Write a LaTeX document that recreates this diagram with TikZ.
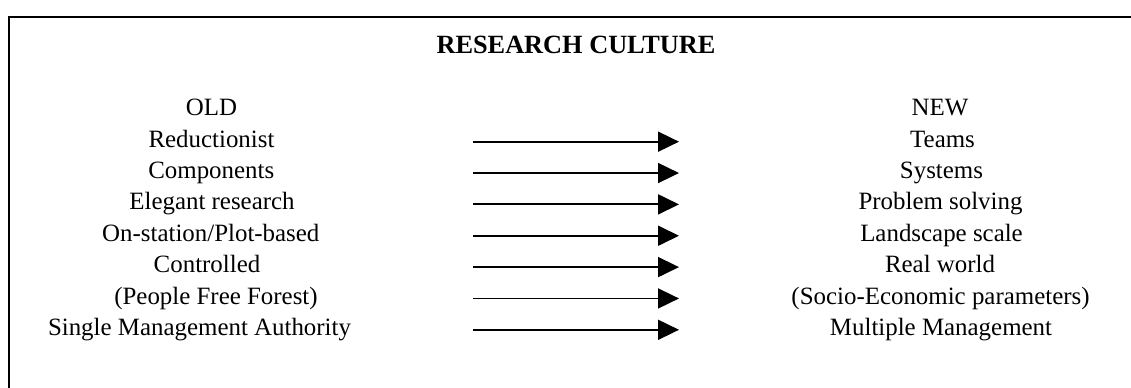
\documentclass[tikz,border=0pt]{standalone}
\usepackage{fontspec}
\setmainfont{Liberation Serif}
\usetikzlibrary{arrows.meta}
\begin{document}
\begin{tikzpicture}[x=0.5bp,y=-0.5bp,
  cell/.style={anchor=base,inner sep=0pt,font=\fontsize{12.5}{15}\selectfont},
  headtext/.style={cell,font=\fontsize{13.2}{16}\selectfont\bfseries},
  turnarrow/.style={-{Triangle[length=10.5bp,width=10bp]},line width=0.9bp},
  boxline/.style={line width=1bp}]
\useasboundingbox (0,0) rectangle (1131,388);

% surrounding frame (open towards the right and bottom)
\draw[boxline] (8.5,392) -- (8.5,17) -- (1135,17);

% heading
\node[headtext] (title) at (576,53.3) {RESEARCH CULTURE};

% old culture column
\node[cell] (o0) at (211.5,115.7) {OLD};
\node[cell] (o1) at (211.5,147.1) {Reductionist};
\node[cell] (o2) at (211.3,178.5) {Components};
\node[cell] (o3) at (212.0,209.9) {Elegant research};
\node[cell] (o4) at (210.8,241.3) {On-station/Plot-based};
\node[cell] (o5) at (207.0,272.7) {Controlled};
\node[cell] (o6) at (216.0,304.1) {(People Free Forest)};
\node[cell] (o7) at (199.5,335.5) {Single Management Authority};

% new culture column
\node[cell] (n0) at (940.0,115.7) {NEW};
\node[cell] (n1) at (942.5,147.1) {Teams};
\node[cell] (n2) at (941.5,178.5) {Systems};
\node[cell] (n3) at (940.5,209.9) {Problem solving};
\node[cell] (n4) at (941.5,241.3) {Landscape scale};
\node[cell] (n5) at (940.0,272.7) {Real world};
\node[cell] (n6) at (940.5,304.1) {(Socio-Economic parameters)};
\node[cell] (n7) at (941.0,335.5) {Multiple Management};

% shift arrows between the two columns
\foreach \k in {1,...,7} {
  \coordinate (a\k s) at (473,{141.7+31.35*(\k-1)});
  \coordinate (a\k e) at (679,{141.7+31.35*(\k-1)});
  \draw[turnarrow] (a\k s) -- (a\k e);
}
\end{tikzpicture}
\end{document}
